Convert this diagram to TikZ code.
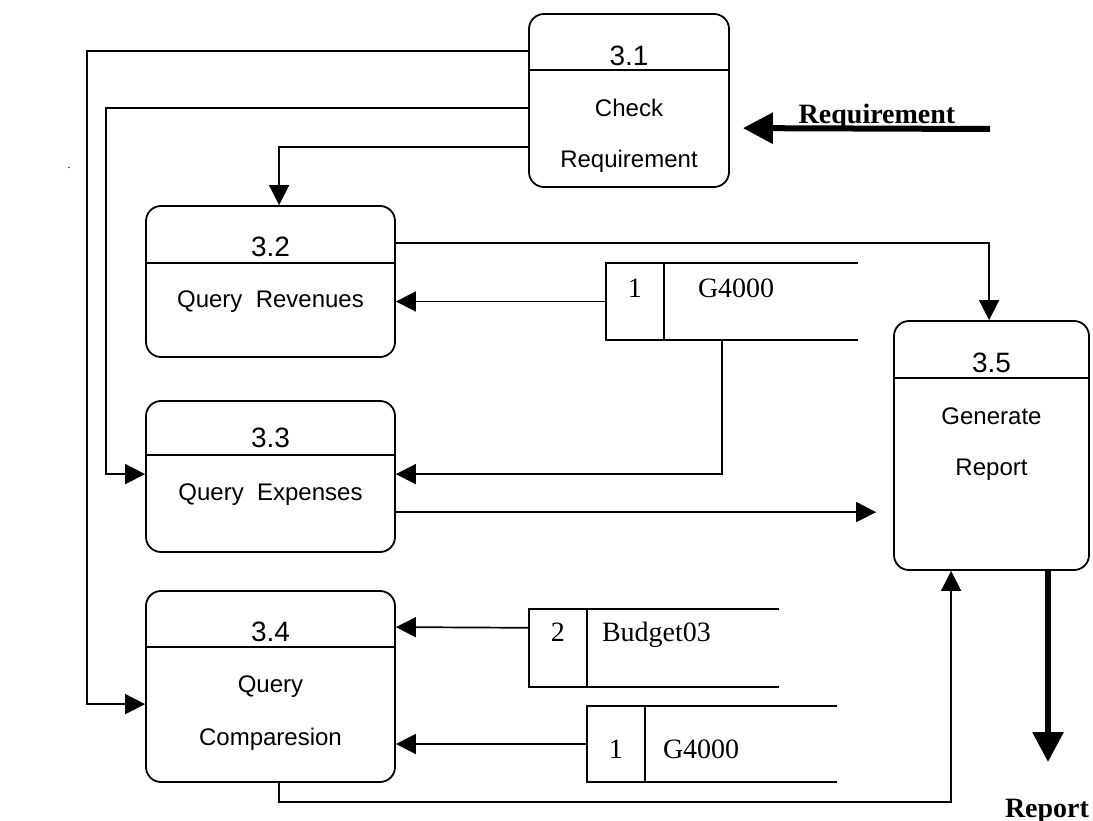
\documentclass[tikz,border=0pt]{standalone}
\usepackage{fontspec}
\setmainfont{Liberation Serif}
\newfontfamily\procfont{Liberation Sans}
\usetikzlibrary{arrows.meta,calc}
\tikzset{
 proc/.style={draw, line width=1.8pt, rounded corners=15pt, inner sep=0pt},
 flow/.style={line width=1.7pt, -{Triangle[length=20pt,width=20pt]}},
 bigflow/.style={line width=6pt, -{Triangle[length=30pt,width=30pt]}},
 num/.style={font=\procfont\fontsize{28}{33}\selectfont, anchor=base, inner sep=0pt},
 ptext/.style={font=\procfont\fontsize{24}{29}\selectfont, anchor=base, inner sep=0pt},
 stext/.style={font=\fontsize{28}{34}\selectfont, anchor=base, inner sep=0pt},
 stextw/.style={font=\fontsize{28}{34}\selectfont, anchor=base west, inner sep=0pt},
 btext/.style={font=\bfseries\fontsize{28}{34}\selectfont, anchor=base, inner sep=0pt},
 store/.style={inner sep=0pt},
 sline/.style={line width=1.8pt},
}
\begin{document}
\begin{tikzpicture}[x=1pt,y=-1pt]
\useasboundingbox (0,0) rectangle (1093,821);

% processes
\node[proc, minimum width=200pt, minimum height=173pt] (p31) at (629,100.5) {};
\node[proc, minimum width=249pt, minimum height=151pt] (p32) at (270.5,281.5) {};
\node[proc, minimum width=249pt, minimum height=151pt] (p33) at (270.5,476.5) {};
\node[proc, minimum width=249pt, minimum height=191pt] (p34) at (270.5,686.5) {};
\node[proc, minimum width=195pt, minimum height=249pt] (p35) at (991.5,445.5) {};

% dividers
\draw[sline] ($(p31.north west)+(0,57)$) -- ($(p31.north east)+(0,57)$);
\draw[sline] ($(p32.north west)+(0,58)$) -- ($(p32.north east)+(0,58)$);
\draw[sline] ($(p33.north west)+(0,55)$) -- ($(p33.north east)+(0,55)$);
\draw[sline] ($(p34.north west)+(0,57)$) -- ($(p34.north east)+(0,57)$);
\draw[sline] ($(p35.north west)+(0,58)$) -- ($(p35.north east)+(0,58)$);

% process labels
\node[num] (n31) at ($(p31.north)+(0,52)$) {3.1};
\node[ptext] (t31a) at ($(p31.north)+(0,103)$) {Check};
\node[ptext] (t31b) at ($(p31.north)+(0,154)$) {Requirement};
\node[num] (n32) at ($(p32.north)+(0,51)$) {3.2};
\node[ptext] (t32) at ($(p32.north)+(0,102)$) {Query\ \ Revenues};
\node[num] (n33) at ($(p33.north)+(0,47)$) {3.3};
\node[ptext] (t33) at ($(p33.north)+(0,100)$) {Query\ \ Expenses};
\node[num] (n34) at ($(p34.north)+(0,51)$) {3.4};
\node[ptext] (t34a) at ($(p34.north)+(0,102)$) {Query};
\node[ptext] (t34b) at ($(p34.north)+(0,155)$) {Comparesion};
\node[num] (n35) at ($(p35.north)+(0,52)$) {3.5};
\node[ptext] (t35a) at ($(p35.north)+(0,104)$) {Generate};
\node[ptext] (t35b) at ($(p35.north)+(0,155)$) {Report};

% data stores
\node[store, minimum width=252pt, minimum height=77pt] (d1a) at (732,301.5) {};
\node[store, minimum width=250pt, minimum height=78pt] (d2) at (654,648) {};
\node[store, minimum width=250pt, minimum height=76pt] (d1b) at (712,744) {};
\foreach \d in {d1a,d2,d1b}{
  \draw[sline] (\d.north east) -- (\d.north west) -- (\d.south west) -- (\d.south east);
  \draw[sline] ($(\d.north west)+(58,0)$) -- ($(\d.south west)+(58,0)$);
}
\node[stext] (s1an) at ($(d1a.north west)+(29,35)$) {1};
\node[stextw] (s1at) at ($(d1a.north west)+(92,35)$) {G4000};
\node[stext] (s2n) at ($(d2.north west)+(29,33)$) {2};
\node[stextw] (s2t) at ($(d2.north west)+(73,33)$) {Budget03};
\node[stext] (s1bn) at ($(d1b.north west)+(29,53)$) {1};
\node[stextw] (s1bt) at ($(d1b.north west)+(76,53)$) {G4000};

% flows
\draw[flow] ($(p31.north west)+(0,38)$) -| ($(p34.north west)+(-58,114)$) -- ($(p34.north west)+(0,114)$);
\draw[flow] ($(p31.north west)+(0,95)$) -| ($(p33.north west)+(-39,74)$) -- ($(p33.north west)+(0,74)$);
\draw[flow] ($(p31.north west)+(0,134)$) -| ($(p32.north west)+(134,0)$);
\draw[flow] ($(p32.north east)+(0,38)$) -| ($(p35.north west)+(96,0)$);
\draw[flow] (d1a.west) -- (d1a.west -| p32.east);
\draw[flow] ($(d1a.south west)+(116,0)$) |- ($(p33.north east)+(0,74)$);
\coordinate (p35in) at ($(p35.north west)+(-17,192)$);
\draw[flow] ($(p33.north east)+(0,112)$) -- (p35in);
\draw[flow] ($(d2.north west)+(0,19)$) -- ($(p34.north east)+(0,37)$);
\draw[flow] (d1b.west) -- (d1b.west -| p34.east);
\draw[flow] ($(p34.south west)+(134,0)$) -- ++(0,19) -| ($(p35.south west)+(58,0)$);

% external flows
\coordinate (reqsrc) at (990,129);
\draw[bigflow] (reqsrc) -- ($(p31.north east)+(13,115)$);
\node[btext] (reqlbl) at (877,124) {Requirement};
\coordinate (repend) at (1048,762);
\draw[bigflow] (p35.south west -| repend) -- (repend);
\node[btext] (replbl) at (1047,817) {Report};

% stray dot
\node[font=\fontsize{12}{14}\selectfont, anchor=base, inner sep=0pt] (dot) at (69,169) {.};
\end{tikzpicture}
\end{document}
